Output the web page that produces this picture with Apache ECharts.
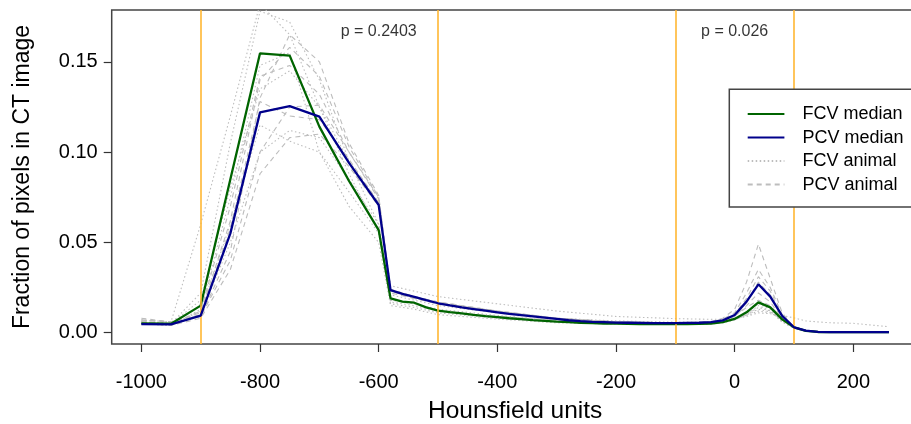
<!DOCTYPE html>
<html>
<head>
<meta charset="utf-8">
<script src="https://cdn.jsdelivr.net/npm/echarts@6/dist/echarts.min.js"></script>
<style>html,body{margin:0;padding:0;background:#fff;}#c{width:911px;height:424px;}</style>
</head>
<body>
<div id="c"></div>
<script>
// ---------- DATA ----------
const xTicks = [-1000, -800, -600, -400, -200, 0, 200];
const yTicks = [0, 0.05, 0.10, 0.15];
const cutoffs = [-900, -500, -100, 100];
const annotX = [-600, 0];
const annotY = [0.167, 0.167];
const annotText = ['p = 0.2403', 'p = 0.026'];

const medX = [-1000,-950,-900,-850,-800,-750,-700,-650,-600,
  -580,-560,-540,-520,-500,-480,-460,-440,-420,-400,-380,-360,-340,-320,-300,-280,-260,-240,-220,-200,
  -180,-160,-140,-120,-100,-80,-60,-40,-20,0,20,40,60,80,100,120,140,160,180,200,220,240,260];
const fcvMedian = [0.0052,0.0050,0.0150,0.0850,0.1547,0.1534,0.1141,0.0840,0.0568,
  0.0190,0.0172,0.0166,0.0140,0.0122,0.0114,0.0107,0.0099,0.0092,0.0086,0.0080,0.0075,0.0070,0.0066,0.0061,0.0058,0.0055,0.0053,0.0051,0.0050,
  0.0049,0.0048,0.0048,0.0047,0.0047,0.0048,0.0049,0.0051,0.0058,0.0076,0.0113,0.0168,0.0140,0.0074,0.0030,0.0010,0.0004,0.0003,0.0003,0.0003,0.0003,0.0003,0.0003];
const pcvMedian = [0.0048,0.0046,0.0094,0.0550,0.1220,0.1255,0.1196,0.0940,0.0707,
  0.0236,0.0215,0.0198,0.0180,0.0163,0.0151,0.0140,0.0131,0.0122,0.0113,0.0104,0.0097,0.0090,0.0083,0.0076,0.0069,0.0064,0.0060,0.0058,0.0056,
  0.0055,0.0054,0.0053,0.0053,0.0053,0.0054,0.0055,0.0058,0.0068,0.0098,0.0172,0.0268,0.0200,0.0093,0.0030,0.0012,0.0005,0.0003,0.0003,0.0003,0.0003,0.0003,0.0003];

const aniX = [-1000,-950,-900,-850,-800,-750,-700,-650,-600,-580,-540,-500,-400,-300,-200,-100,-40,-20,0,20,40,60,80,100,120,160,200,260];
const fcvA1 = [0.007,0.006,0.060,0.120,0.182,0.165,0.125,0.088,0.056,0.017,0.015,0.012,0.009,0.007,0.006,0.0055,0.0058,0.0065,0.008,0.011,0.016,0.013,0.007,0.003,0.001,0.0003,0.0003,0.0003];
const fcvA2 = [0.006,0.005,0.022,0.105,0.178,0.172,0.140,0.095,0.060,0.016,0.014,0.011,0.008,0.006,0.0052,0.005,0.0052,0.006,0.0075,0.010,0.014,0.012,0.006,0.0025,0.0008,0.0003,0.0003,0.0003];
const fcvA3 = [0.005,0.004,0.013,0.075,0.148,0.155,0.100,0.070,0.050,0.015,0.013,0.010,0.0075,0.0055,0.0048,0.0045,0.0048,0.0055,0.007,0.010,0.015,0.012,0.006,0.0025,0.0008,0.0003,0.0003,0.0003];
const fcvA4 = [0.006,0.005,0.018,0.080,0.135,0.145,0.125,0.095,0.072,0.026,0.023,0.020,0.016,0.012,0.009,0.0078,0.0074,0.0075,0.0078,0.009,0.011,0.0105,0.0095,0.0082,0.0065,0.0055,0.0052,0.0033];
const fcvA5 = [0.006,0.005,0.010,0.050,0.100,0.112,0.108,0.085,0.060,0.021,0.018,0.015,0.011,0.008,0.0065,0.0058,0.006,0.0065,0.0078,0.0095,0.012,0.011,0.0075,0.0035,0.0012,0.0004,0.0003,0.0003];
const fcvA6 = [0.005,0.004,0.012,0.060,0.115,0.106,0.100,0.078,0.055,0.018,0.016,0.013,0.0095,0.007,0.0058,0.0052,0.0053,0.0058,0.0072,0.0098,0.013,0.0115,0.007,0.003,0.001,0.0003,0.0003,0.0003];
const pcvA1 = [0.007,0.006,0.009,0.045,0.130,0.165,0.150,0.105,0.076,0.024,0.020,0.017,0.012,0.008,0.006,0.0055,0.006,0.008,0.013,0.028,0.049,0.030,0.011,0.003,0.001,0.0003,0.0003,0.0003];
const pcvA2 = [0.006,0.005,0.012,0.070,0.142,0.148,0.132,0.100,0.074,0.024,0.019,0.016,0.0115,0.0078,0.006,0.0055,0.006,0.0075,0.011,0.022,0.035,0.025,0.010,0.003,0.001,0.0003,0.0003,0.0003];
const pcvA3 = [0.008,0.006,0.010,0.058,0.128,0.120,0.118,0.096,0.072,0.023,0.019,0.016,0.011,0.0075,0.0058,0.0053,0.0058,0.007,0.010,0.019,0.031,0.023,0.009,0.003,0.001,0.0003,0.0003,0.0003];
const pcvA4 = [0.006,0.005,0.009,0.040,0.100,0.125,0.126,0.100,0.075,0.023,0.020,0.017,0.012,0.008,0.006,0.0055,0.0058,0.007,0.0095,0.017,0.028,0.021,0.009,0.003,0.001,0.0003,0.0003,0.0003];
const pcvA5 = [0.005,0.004,0.008,0.035,0.088,0.108,0.110,0.092,0.070,0.022,0.019,0.0165,0.012,0.008,0.006,0.0054,0.0056,0.0065,0.009,0.015,0.022,0.017,0.008,0.003,0.001,0.0003,0.0003,0.0003];
const pcvA6 = [0.007,0.006,0.011,0.062,0.140,0.158,0.142,0.103,0.075,0.024,0.020,0.0165,0.0115,0.0078,0.006,0.0054,0.0057,0.0068,0.0092,0.014,0.018,0.015,0.008,0.003,0.001,0.0003,0.0003,0.0003];

// ---------- CHART ----------
const FONT = '"Liberation Sans", Arial, sans-serif';
const pair = (xs, ys) => xs.map((x, i) => [x, ys[i]]);
const series = [];

series.push({
  name: 'cutoffs', type: 'line', data: [], z: 1, silent: true,
  markLine: {
    silent: true, symbol: ['none', 'none'], label: { show: false },
    lineStyle: { color: '#FFB733', width: 1.6, type: 'solid' },
    data: cutoffs.map(v => ({ xAxis: v }))
  }
});

const GREY = '#BDBDBD';
[fcvA1, fcvA2, fcvA3, fcvA4, fcvA5, fcvA6].forEach(a => series.push({
  name: 'FCV animal', type: 'line', data: pair(aniX, a), showSymbol: false, symbol: 'none', z: 2,
  itemStyle: { color: GREY },
  lineStyle: { color: GREY, width: 1.1, type: [1.5, 2.5] }, silent: true
}));
[pcvA1, pcvA2, pcvA3, pcvA4, pcvA5, pcvA6].forEach(a => series.push({
  name: 'PCV animal', type: 'line', data: pair(aniX, a), showSymbol: false, symbol: 'none', z: 2,
  itemStyle: { color: GREY },
  lineStyle: { color: GREY, width: 1.1, type: [5, 4] }, silent: true
}));
series.push({
  name: 'FCV median', type: 'line', data: pair(medX, fcvMedian), showSymbol: false, symbol: 'none', z: 4,
  itemStyle: { color: '#006400' },
  lineStyle: { color: '#006400', width: 2.3 }
});
series.push({
  name: 'PCV median', type: 'line', data: pair(medX, pcvMedian), showSymbol: false, symbol: 'none', z: 5,
  itemStyle: { color: '#00008B' },
  lineStyle: { color: '#00008B', width: 2.3 }
});
series.push({
  name: 'annot', type: 'scatter', symbolSize: 0, z: 6, silent: true,
  data: annotX.map((x, i) => ({ value: [x, annotY[i]], label: { formatter: annotText[i] } })),
  label: { show: true, position: 'inside', color: '#000', fontSize: 16, fontFamily: FONT }
});

const chart = echarts.init(document.getElementById('c'), null, { renderer: 'canvas' });
chart.setOption({
  animation: false,
  backgroundColor: '#fff',
  textStyle: { fontFamily: FONT },
  grid: { left: 111.7, top: 10, width: 806.9, bottom: 80, outerBoundsMode: 'none', containLabel: false,
          show: true, borderColor: '#444', borderWidth: 1.5, backgroundColor: 'transparent' },
  xAxis: {
    type: 'value', min: -1050, max: 310,
    name: 'Hounsfield units', nameLocation: 'middle', nameGap: 55,
    nameTextStyle: { fontSize: 24.5, color: '#000', fontFamily: FONT },
    axisLine: { show: false, onZero: false },
    splitLine: { show: false },
    axisTick: { show: true, length: 8, lineStyle: { color: '#333', width: 1.2 }, customValues: xTicks },
    axisLabel: { fontSize: 20, color: '#000', margin: 28, customValues: xTicks, formatter: v => String(v), fontFamily: FONT }
  },
  yAxis: {
    type: 'value', min: -0.006257, max: 0.17868,
    name: 'Fraction of pixels in CT image', nameLocation: 'middle', nameGap: 78, nameRotate: 90,
    nameTextStyle: { fontSize: 23, color: '#000', fontFamily: FONT },
    axisLine: { show: false, onZero: false },
    splitLine: { show: false },
    axisTick: { show: true, length: 8, lineStyle: { color: '#333', width: 1.2 }, customValues: yTicks },
    axisLabel: { fontSize: 20, color: '#000', margin: 14, customValues: yTicks, formatter: v => v.toFixed(2), fontFamily: FONT }
  },
  graphic: [{
    type: 'rect', z: 90, silent: true,
    shape: { x: 729.3, y: 89.3, width: 220, height: 117.7 },
    style: { fill: '#fff', stroke: '#444', lineWidth: 1.5 }
  }],
  legend: {
    data: ['FCV median', 'PCV median', 'FCV animal', 'PCV animal'],
    orient: 'vertical', left: 729.3, top: 89.3, z: 100,
    padding: [13, 10, 11, 17.4],
    itemGap: 0, itemWidth: 36.7, itemHeight: 14,
    itemStyle: { opacity: 0 },
    backgroundColor: 'transparent', borderWidth: 0,
    selectedMode: false,
    textStyle: { fontSize: 18, color: '#000', lineHeight: 23.5, padding: [0, 0, 0, 13], fontFamily: FONT }
  },
  series: series
});
</script>
</body>
</html>
